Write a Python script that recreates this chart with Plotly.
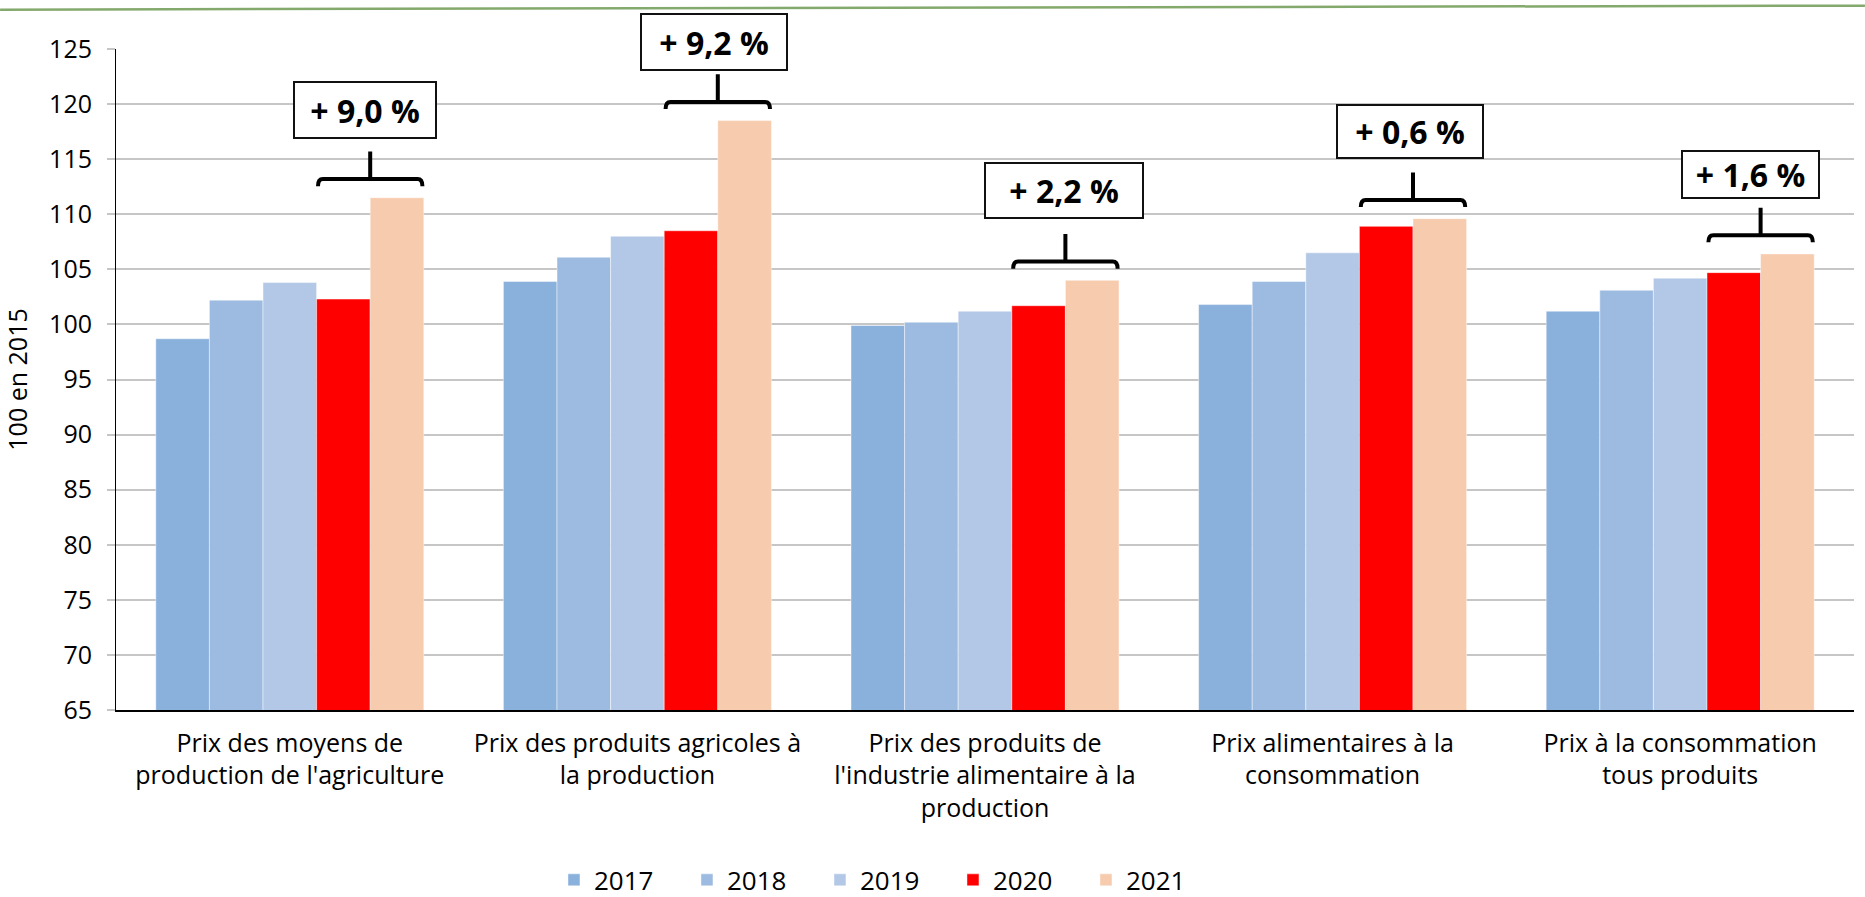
import plotly.graph_objects as go

categories = [
    "Prix des moyens de<br>production de l'agriculture",
    "Prix des produits agricoles à<br>la production",
    "Prix des produits de<br>l'industrie alimentaire à la<br>production",
    "Prix alimentaires à la<br>consommation",
    "Prix à la consommation<br>tous produits",
]
years = ["2017", "2018", "2019", "2020", "2021"]
v2017 = [98.7, 103.9, 99.9, 101.8, 101.2]
v2018 = [102.2, 106.1, 100.2, 103.9, 103.1]
v2019 = [103.8, 108.0, 101.2, 106.5, 104.2]
v2020 = [102.3, 108.5, 101.7, 108.9, 104.7]
v2021 = [111.5, 118.5, 104.0, 109.6, 106.4]
changes = ["+ 9,0 %", "+ 9,2 %", "+ 2,2 %", "+ 0,6 %", "+ 1,6 %"]
y_ticks = [65, 70, 75, 80, 85, 90, 95, 100, 105, 110, 115, 120, 125]

series = [v2017, v2018, v2019, v2020, v2021]
colors = ["#8AB0DC", "#9DBBE1", "#B2C8E6", "#FF0000", "#F7CBAD"]

FONT = "Open Sans"
YMIN, YMAX = 65, 125
xs = list(range(len(categories)))
BARGAP = 0.229
bw = (1 - BARGAP) / len(series)

fig = go.Figure()
for yr, vals, col in zip(years, series, colors):
    fig.add_trace(go.Bar(
        x=xs, y=vals, name=yr,
        marker=dict(color=col, line=dict(color="rgba(255,255,255,0.45)", width=1)),
        hoverinfo="x+y",
    ))

# callout box layout (pixels / data-unit offsets above the tallest bar)
box_w = [143, 147, 159, 147, 138]
box_h = [57, 57, 56, 54, 48]
box_dx = [-5, -4, -1, -3, -10]
box_dy = [8.0, 7.1, 8.2, 7.9, 7.2]

shapes = []
annotations = []
for i, (c, a, b, lab) in enumerate(zip(xs, v2020, v2021, changes)):
    x0 = c - (1 - BARGAP) / 2 + 3 * bw + 0.004
    x1 = c + (1 - BARGAP) / 2 - 0.004
    xm = c - (1 - BARGAP) / 2 + 4 * bw
    top = max(a, b)
    yh = top + 1.7
    ys = top + 4.2
    r = 0.014
    path = (f"M {x0},{yh-0.65} Q {x0},{yh} {x0+r},{yh} L {x1-r},{yh} "
            f"Q {x1},{yh} {x1},{yh-0.65} M {xm},{yh} L {xm},{ys}")
    shapes.append(dict(type="path", xref="x", yref="y", path=path,
                       line=dict(color="black", width=4)))
    annotations.append(dict(
        x=xm, y=(top + box_dy[i] - YMIN) / (YMAX - YMIN), xref="x", yref="paper",
        text=f"<b>{lab}</b>",
        showarrow=False, xanchor="center", yanchor="middle",
        width=box_w[i] - 5, height=box_h[i] - 5, borderpad=1,
        bordercolor="#111111", borderwidth=2, bgcolor="white",
        font=dict(family=FONT, size=32, color="black"),
        xshift=box_dx[i],
    ))

# top decorative green rule
shapes.append(dict(type="line", xref="paper", yref="paper",
                   x0=-0.0667, y0=1.0595, x1=1.0063, y1=1.0656,
                   line=dict(color="#84A96C", width=2.5), layer="above"))

fig.update_layout(
    width=1865, height=897,
    margin=dict(l=116, r=11, t=49, b=187, autoexpand=False),
    paper_bgcolor="white", plot_bgcolor="white",
    barmode="group", bargap=BARGAP, bargroupgap=0,
    font=dict(family=FONT, size=24, color="black"),
    showlegend=True,
    legend=dict(orientation="h", x=0.252, xanchor="left",
                yref="container", y=0.019, yanchor="middle",
                font=dict(family=FONT, size=26, color="black"),
                entrywidth=88, entrywidthmode="pixels",
                itemclick=False, itemdoubleclick=False),
    shapes=shapes,
    annotations=annotations,
    xaxis=dict(
        range=[-0.5, len(categories) - 0.5],
        tickmode="array", tickvals=xs, ticktext=categories,
        showgrid=False, zeroline=False, automargin=False,
        showline=True, linecolor="black", linewidth=1.5,
        ticks="", ticklabelstandoff=10,
        tickfont=dict(family=FONT, size=25, color="black"),
        fixedrange=True,
    ),
    yaxis=dict(
        range=[YMIN, YMAX], tickmode="array", tickvals=y_ticks,
        showgrid=True, gridcolor="#C6C6C6", gridwidth=1.5,
        zeroline=False, showline=True, linecolor="black", linewidth=1,
        automargin=False,
        ticks="outside", ticklen=8, tickcolor="#C6C6C6", tickwidth=1.5,
        ticklabelstandoff=10,
        tickfont=dict(family=FONT, size=25, color="black"),
        title=dict(text="100 en 2015", font=dict(family=FONT, size=25, color="black"), standoff=16),
        fixedrange=True,
    ),
)

fig.write_html(
    "out.html",
    config={"displayModeBar": False},
    post_script="document.body.style.margin='0px';document.body.style.padding='0px';"
                "document.body.style.overflow='hidden';",
)
